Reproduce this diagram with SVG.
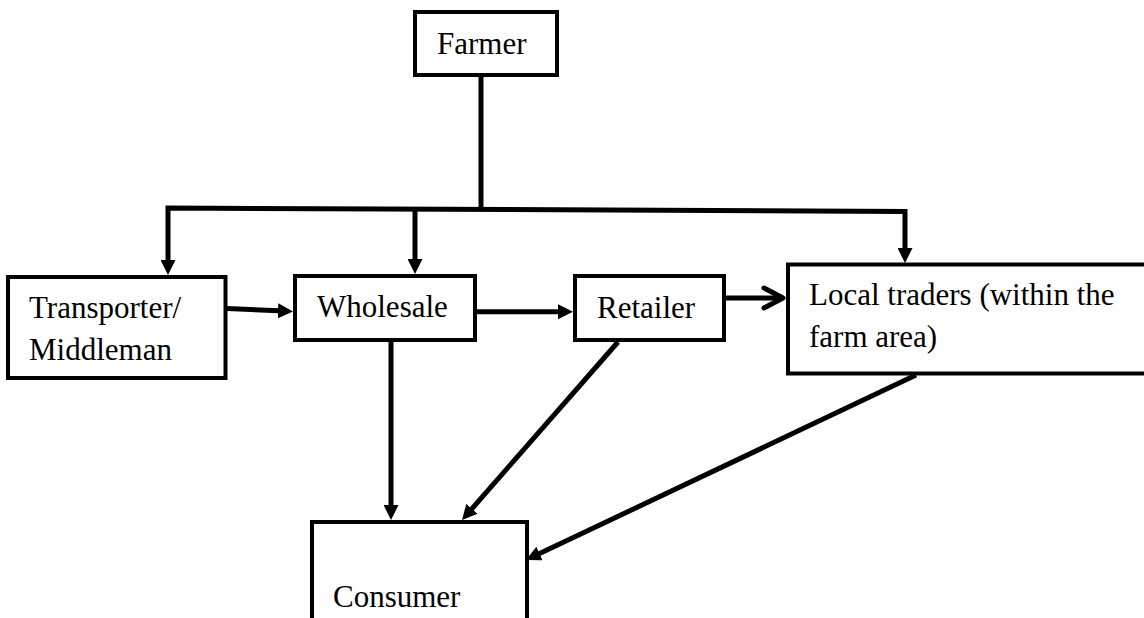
<svg xmlns="http://www.w3.org/2000/svg" width="1144" height="618" viewBox="0 0 1144 618">
<style>
.box{fill:#fff;stroke:#000;stroke-width:4}
.lbl{font-family:"Liberation Serif","Times New Roman",serif;font-size:31px;fill:#000}
.con{fill:none;stroke:#000;stroke-width:5}
</style>
<defs>
<marker id="ah" viewBox="0 0 15 15" refX="7" refY="7.5" markerWidth="15" markerHeight="15" markerUnits="userSpaceOnUse" orient="auto-start-reverse">
<path d="M0,0 L15,7.5 L0,15 z" fill="#000"/>
</marker>
</defs>
<rect width="1144" height="618" fill="#fff"/>
<g id="connectors">
<line class="con" x1="481" y1="76" x2="481" y2="210"/>
<path class="con" d="M168,267 L168,208 L905,211.5 L905,255" marker-start="url(#ah)" marker-end="url(#ah)"/>
<line class="con" x1="415" y1="209.5" x2="415" y2="266" marker-end="url(#ah)"/>
<line class="con" x1="227" y1="308.5" x2="285" y2="311.1" marker-end="url(#ah)"/>
<line class="con" x1="477" y1="311.7" x2="565" y2="311.7" marker-end="url(#ah)"/>
<line class="con" x1="726" y1="298" x2="781" y2="298"/>
<polyline class="con" points="764,288 783,298 764,308" stroke-linecap="round" stroke-linejoin="round"/>
<line class="con" x1="391" y1="341" x2="391" y2="512" marker-end="url(#ah)"/>
<line class="con" x1="618" y1="342" x2="467.3" y2="514" marker-end="url(#ah)"/>
<line class="con" x1="916" y1="375" x2="533.2" y2="556.6" marker-end="url(#ah)"/>
</g>
<g id="farmer">
<rect class="box" x="415" y="12" width="142" height="63"/>
<text class="lbl" x="437" y="54">Farmer</text>
</g>
<g id="transporter">
<rect class="box" x="8" y="277" width="217.5" height="101"/>
<text class="lbl" x="29" y="318">Transporter/</text>
<text class="lbl" x="29" y="360">Middleman</text>
</g>
<g id="wholesale">
<rect class="box" x="295" y="276" width="180" height="64"/>
<text class="lbl" x="317" y="317">Wholesale</text>
</g>
<g id="retailer">
<rect class="box" x="575" y="276" width="149" height="64"/>
<text class="lbl" x="597" y="318">Retailer</text>
</g>
<g id="local-traders">
<rect class="box" x="788" y="264.5" width="370" height="109"/>
<text class="lbl" x="809" y="305">Local traders (within the</text>
<text class="lbl" x="809" y="347">farm area)</text>
</g>
<g id="consumer">
<rect class="box" x="312" y="522" width="215" height="120"/>
<text class="lbl" x="333" y="607">Consumer</text>
</g>
</svg>
